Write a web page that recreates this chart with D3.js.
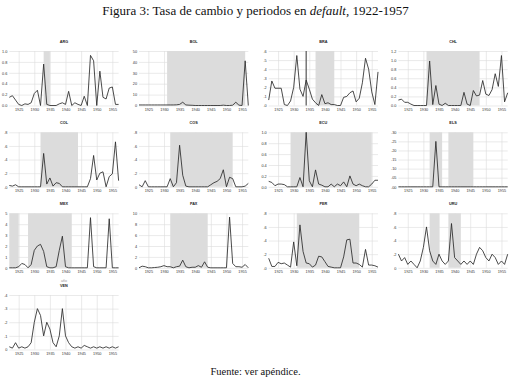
<!DOCTYPE html>
<html><head><meta charset="utf-8">
<script src="https://cdn.jsdelivr.net/npm/d3@7"></script>
<style>
html,body{margin:0;padding:0;background:#fff;}
svg{display:block;}
</style></head>
<body>
<svg id="c" width="511" height="380"></svg>
<script>
// ---------- DATA ----------
const years = [1922,1923,1924,1925,1926,1927,1928,1929,1930,1931,1932,1933,1934,1935,1936,1937,1938,1939,1940,1941,1942,1943,1944,1945,1946,1947,1948,1949,1950,1951,1952,1953,1954,1955,1956,1957];
const xTicks = [1925,1930,1935,1940,1945,1950,1955];
const countries = ["ARG","BOL","BRA","CHL","COL","COS","ECU","ELS","MEX","PAX","PER","URU","VEN"];

const ARG = [0.15,0.18,0.10,0.02,0.00,0.03,0.02,0.05,0.22,0.28,0.00,0.76,0.02,0.00,0.00,0.00,0.03,0.05,0.02,0.26,0.00,0.05,0.02,0.00,0.17,0.00,0.92,0.82,0.00,0.63,0.15,0.12,0.32,0.34,0.02,0.02];
const BOL = [0.5,0.5,0.5,0.5,0.5,0.5,0.5,0.5,0.5,0.5,0.5,0.5,0.6,1.0,3.0,0.5,0.3,0.2,0.0,0.0,0.0,0.0,0.0,0.0,0.0,0.0,0.0,0.3,0.0,0.0,0.3,3.0,0.3,0.0,41.0,0.0];
const BRA = [0.06,0.27,0.19,0.19,0.19,0.01,0.00,0.05,0.20,0.55,0.18,0.10,0.28,0.18,0.07,0.03,0.00,0.12,0.02,0.03,0.01,0.01,0.00,0.00,0.09,0.10,0.14,0.16,0.04,0.08,0.25,0.52,0.40,0.15,0.01,0.37];
const CHL = [0.12,0.14,0.07,0.07,0.03,0.00,0.00,0.00,0.00,0.00,0.98,0.02,0.44,0.03,0.00,0.05,0.00,0.00,0.00,0.00,0.00,0.29,0.03,0.00,0.33,0.21,0.23,0.55,0.25,0.22,0.35,0.70,0.42,1.10,0.08,0.28];
const COL = [0.02,0.01,0.03,0.00,0.00,0.00,0.00,0.00,0.00,0.00,0.00,0.49,0.04,0.13,0.01,0.06,0.05,0.00,0.00,0.00,0.00,0.00,0.00,0.00,0.00,0.00,0.12,0.46,0.10,0.20,0.22,0.00,0.15,0.19,0.66,0.09];
const COS = [0.03,0.00,0.09,0.00,0.00,0.00,0.00,0.00,0.00,0.00,0.12,0.00,0.06,0.61,0.17,0.01,0.00,0.00,0.00,0.00,0.00,0.00,0.00,0.03,0.06,0.08,0.12,0.25,0.00,0.14,0.12,0.00,0.00,0.00,0.01,0.05];
const ECU = [0.10,0.08,0.02,0.05,0.05,0.04,0.00,0.00,0.00,0.00,0.17,0.00,1.00,0.11,0.00,0.31,0.05,0.03,0.00,0.00,0.05,0.00,0.05,0.02,0.09,0.00,0.20,0.05,0.02,0.05,0.02,0.00,0.00,0.05,0.12,0.12];
const ELS = [0,0,0,0,0,0,0,0,0,0,0,0,0.25,0,0,0,0,0,0,0,0,0,0,0,0,0,0,0,0,0,0,0,0,0,0,0];
const MEX = [0.0,0.0,0.0,0.1,0.4,0.3,0.0,0.3,1.6,2.0,2.15,1.5,0.1,0.0,0.0,0.1,1.6,2.9,0.1,0.0,0.0,0.0,0.0,0.0,0.0,0.0,4.6,0.1,0.0,0.0,0.0,0.0,4.5,0.0,0.0,0.0];
const PAX = [0.0,0.3,0.2,0.0,0.0,0.05,0.1,0.2,0.4,0.2,0.2,0.0,0.2,0.3,1.4,0.2,0.0,0.1,0.1,0.4,0.1,1.1,0.1,0.0,0.0,0.0,0.0,0.0,0.0,9.3,0.8,0.2,0.2,0.1,0.6,0.0];
const PER = [0.14,0.02,0.02,0.08,0.06,0.07,0.04,0.01,0.38,0.03,0.63,0.24,0.07,0.06,0.01,0.04,0.17,0.16,0.09,0.02,0.01,0.00,0.00,0.00,0.16,0.41,0.42,0.07,0.07,0.05,0.01,0.27,0.04,0.04,0.03,0.01];
const URU = [0.20,0.10,0.15,0.05,0.10,0.05,0.00,0.10,0.30,0.60,0.25,0.10,0.05,0.20,0.10,0.05,0.10,0.65,0.15,0.10,0.05,0.10,0.05,0.10,0.05,0.20,0.30,0.25,0.15,0.10,0.20,0.15,0.05,0.10,0.05,0.20];
const VEN = [0.02,0.01,0.05,0.01,0.02,0.01,0.02,0.05,0.20,0.30,0.25,0.10,0.20,0.15,0.05,0.02,0.10,0.30,0.10,0.05,0.02,0.01,0.02,0.01,0.03,0.02,0.01,0.02,0.01,0.02,0.01,0.02,0.01,0.02,0.01,0.02];

const yTicksARG = [0,0.2,0.4,0.6,0.8,1.0], yLabelsARG = ["0.0","0.2","0.4","0.6","0.8","1.0"];
const yTicksBOL = [0,10,20,30,40,50], yLabelsBOL = ["0","10","20","30","40","50"];
const yTicksBRA = [0,0.1,0.2,0.3,0.4,0.5,0.6], yLabelsBRA = [".0",".1",".2",".3",".4",".5",".6"];
const yTicksCHL = [0,0.2,0.4,0.6,0.8,1.0,1.2], yLabelsCHL = ["0.0","0.2","0.4","0.6","0.8","1.0","1.2"];
const yTicksCOL = [0,0.2,0.4,0.6,0.8], yLabelsCOL = [".0",".2",".4",".6",".8"];
const yTicksCOS = [0,0.2,0.4,0.6,0.8], yLabelsCOS = ["0",".2",".4",".6",".8"];
const yTicksECU = [0,0.2,0.4,0.6,0.8,1.0], yLabelsECU = ["0.0","0.2","0.4","0.6","0.8","1.0"];
const yTicksELS = [0,0.05,0.1,0.15,0.2,0.25,0.3], yLabelsELS = [".00",".05",".10",".15",".20",".25",".30"];
const yTicksMEX = [0,1,2,3,4,5], yLabelsMEX = ["0","1","2","3","4","5"];
const yTicksPAX = [0,2,4,6,8,10], yLabelsPAX = ["0","2","4","6","8","10"];
const yTicksPER = [0,0.2,0.4,0.6,0.8], yLabelsPER = [".0",".2",".4",".6",".8"];
const yTicksURU = [0,0.2,0.4,0.6,0.8], yLabelsURU = ["0",".2",".4",".6",".8"];
const yTicksVEN = [0,0.1,0.2,0.3,0.4], yLabelsVEN = ["0",".1",".2",".3",".4"];

const defaultsARG = [[1933,1935]];
const defaultsBOL = [[1931,1956]];
const defaultsBRA = [[1937,1943]];
const defaultsCHL = [[1931,1948]];
const defaultsCOL = [[1932,1944]];
const defaultsCOS = [[1932,1952]];
const defaultsECU = [[1929,1955]];
const defaultsELS = [[1932,1936],[1938,1946]];
const defaultsMEX = [[1922,1925],[1928,1942]];
const defaultsPAX = [[1932,1944]];
const defaultsPER = [[1931,1951]];
const defaultsURU = [[1932,1935],[1938,1942]];
const defaultsVEN = [];
const singleYearBRA = [1934];

const series = {ARG,BOL,BRA,CHL,COL,COS,ECU,ELS,MEX,PAX,PER,URU,VEN};
const yTicks = {ARG:yTicksARG,BOL:yTicksBOL,BRA:yTicksBRA,CHL:yTicksCHL,COL:yTicksCOL,COS:yTicksCOS,ECU:yTicksECU,ELS:yTicksELS,MEX:yTicksMEX,PAX:yTicksPAX,PER:yTicksPER,URU:yTicksURU,VEN:yTicksVEN};
const yLabels = {ARG:yLabelsARG,BOL:yLabelsBOL,BRA:yLabelsBRA,CHL:yLabelsCHL,COL:yLabelsCOL,COS:yLabelsCOS,ECU:yLabelsECU,ELS:yLabelsELS,MEX:yLabelsMEX,PAX:yLabelsPAX,PER:yLabelsPER,URU:yLabelsURU,VEN:yLabelsVEN};
const defaults = {ARG:defaultsARG,BOL:defaultsBOL,BRA:defaultsBRA,CHL:defaultsCHL,COL:defaultsCOL,COS:defaultsCOS,ECU:defaultsECU,ELS:defaultsELS,MEX:defaultsMEX,PAX:defaultsPAX,PER:defaultsPER,URU:defaultsURU,VEN:defaultsVEN};
const singleYears = {BRA:singleYearBRA};

// ---------- LAYOUT ----------
const svg = d3.select("#c");
const colX = [9.3, 139.0, 268.7, 398.4];
const rowY = [51, 132.3, 213.3, 295];
const plotW = 109.3, plotH = 54.5;
const tickFont = "'Liberation Sans', Arial, sans-serif";

svg.append("text").attr("x",255.5).attr("y",15).attr("text-anchor","middle")
  .style("font-family","'Liberation Serif', serif").style("font-size","13px").attr("fill","#111")
  .call(t=>{
    t.append("tspan").text("Figura 3: Tasa de cambio y periodos en ");
    t.append("tspan").style("font-style","italic").text("default");
    t.append("tspan").text(", 1922-1957");
  });

svg.append("text").attr("x",255.5).attr("y",375).attr("text-anchor","middle")
  .style("font-family","'Liberation Serif', serif").style("font-size","10.5px").attr("fill","#111")
  .text("Fuente: ver apéndice.");

countries.forEach((c,i)=>{
  const x0 = colX[i%4], y0 = rowY[Math.floor(i/4)];
  const ticks = yTicks[c], labels = yLabels[c];
  const x = d3.scaleLinear().domain([years[0], years[years.length-1]]).range([x0, x0+plotW]);
  const y = d3.scaleLinear().domain([0, ticks[ticks.length-1]]).range([y0+plotH, y0]);
  const g = svg.append("g");

  const ax = g.append("g").attr("transform",`translate(0,${y0+plotH})`)
    .call(d3.axisBottom(x).tickValues(xTicks).tickSize(-plotH).tickPadding(3).tickFormat(d=>d));
  const ay = g.append("g").attr("transform",`translate(${x0},0)`)
    .call(d3.axisLeft(y).tickValues(ticks).tickSize(-plotW).tickPadding(2).tickFormat((d,k)=>labels[k]));
  [ax,ay].forEach(a=>{
    a.select(".domain").remove();
    a.selectAll(".tick line").attr("stroke","#dcdcdc").attr("stroke-width",0.6);
    a.selectAll(".tick text").style("font-family",tickFont).style("font-size","3.8px").attr("fill","#333");
  });

  g.selectAll("rect.def").data(defaults[c]).join("rect").attr("class","def")
    .attr("x",d=>x(d[0])).attr("width",d=>x(d[1])-x(d[0]))
    .attr("y",y0).attr("height",plotH).attr("fill","#dcdcdc");
  (singleYears[c]||[]).forEach(yr=>{
    g.append("line").attr("x1",x(yr)).attr("x2",x(yr)).attr("y1",y0).attr("y2",y0+plotH)
      .attr("stroke","#555").attr("stroke-width",1.2);
  });

  const line = d3.line().x((d,k)=>x(years[k])).y(d=>y(d));
  g.append("path").datum(series[c]).attr("d",line).attr("fill","none")
    .attr("stroke","#2a2a2a").attr("stroke-width",0.85).attr("stroke-linejoin","round");

  g.append("text").attr("x",x0+plotW/2).attr("y",y0-8.5).attr("text-anchor","middle")
    .style("font-family",tickFont).style("font-size","3.8px").style("font-weight","bold").attr("fill","#222").text(c);
  if (c==="MEX") {
    g.append("text").attr("x",x0+plotW/2).attr("y",y0+plotH+14.5).attr("text-anchor","middle")
      .style("font-family",tickFont).style("font-size","3.6px").attr("fill","#999").text("año");
  }
});
</script>
</body></html>
